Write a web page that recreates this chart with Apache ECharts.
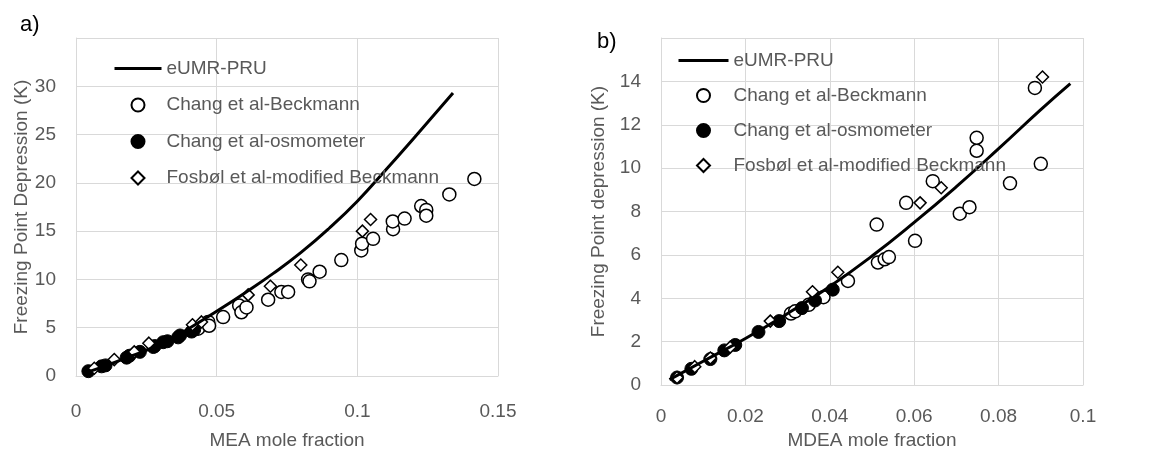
<!DOCTYPE html>
<html>
<head>
<meta charset="utf-8">
<script src="https://cdn.jsdelivr.net/npm/echarts@6.0.0/dist/echarts.min.js"></script>
<style>
  html, body { margin: 0; padding: 0; background: #ffffff; }
  #chart { width: 1151px; height: 455px; }
</style>
</head>
<body>
<div id="chart"></div>
<script type="text/javascript">
// a) MEA
var meaCurveX = [0.004, 0.01, 0.02, 0.03, 0.04, 0.05, 0.06, 0.07, 0.08, 0.09, 0.1, 0.11, 0.12, 0.134];
var meaCurveY = [0.4, 1.0, 2.1, 3.3, 4.9, 6.7, 8.6, 10.6, 12.8, 15.3, 18.1, 21.3, 24.6, 29.3];

var meaBeckX = [0.0434, 0.047, 0.0473, 0.0523, 0.058, 0.0588, 0.0606, 0.0683, 0.073, 0.0754, 0.0825, 0.083, 0.0866, 0.0943, 0.1014, 0.1017, 0.1056, 0.1127, 0.1126, 0.1168, 0.1227, 0.1245, 0.1245, 0.1327, 0.1416];
var meaBeckY = [4.9, 5.6, 5.2, 6.1, 7.3, 6.6, 7.1, 7.9, 8.7, 8.7, 10.0, 9.8, 10.8, 12.0, 13.0, 13.7, 14.2, 15.2, 16.0, 16.3, 17.6, 17.2, 16.6, 18.8, 20.4];

var meaOsmoX = [0.0044, 0.0091, 0.0105, 0.018, 0.019, 0.0227, 0.0275, 0.028, 0.031, 0.0325, 0.0363, 0.037, 0.0411, 0.042];
var meaOsmoY = [0.5, 1.0, 1.1, 1.9, 2.1, 2.5, 3.0, 3.1, 3.5, 3.6, 4.0, 4.2, 4.6, 4.8];

var meaFosX = [0.0065, 0.0136, 0.0207, 0.0259, 0.0414, 0.0446, 0.0612, 0.0691, 0.0799, 0.1018, 0.1047];
var meaFosY = [0.8, 1.7, 2.5, 3.4, 5.3, 5.6, 8.4, 9.3, 11.5, 15.0, 16.2];

// b) MDEA
var mdeaCurveX = [0.002, 0.01, 0.02, 0.03, 0.04, 0.05, 0.06, 0.07, 0.08, 0.09, 0.097];
var mdeaCurveY = [0.25, 1.1, 2.15, 3.3, 4.55, 5.95, 7.5, 9.15, 10.9, 12.7, 13.9];

var mdeaBeckX = [0.0308, 0.0318, 0.035, 0.0385, 0.0443, 0.0514, 0.053, 0.054, 0.0511, 0.0602, 0.0581, 0.0644, 0.0708, 0.0731, 0.0748, 0.0748, 0.0827, 0.0886, 0.09];
var mdeaBeckY = [3.3, 3.4, 3.7, 4.05, 4.8, 5.65, 5.8, 5.9, 7.4, 6.65, 8.4, 9.4, 7.9, 8.2, 10.8, 11.4, 9.3, 13.7, 10.2];

var mdeaOsmoX = [0.0038, 0.0072, 0.0117, 0.015, 0.0176, 0.0231, 0.028, 0.0334, 0.0365, 0.0407];
var mdeaOsmoY = [0.35, 0.75, 1.2, 1.6, 1.85, 2.45, 2.95, 3.55, 3.9, 4.4];

var mdeaFosX = [0.0038, 0.008, 0.0117, 0.0164, 0.0259, 0.0359, 0.0419, 0.0614, 0.0664, 0.0904];
var mdeaFosY = [0.35, 0.85, 1.25, 1.75, 2.95, 4.3, 5.2, 8.4, 9.1, 14.2];

var names = ['eUMR-PRU', 'Chang et al-Beckmann', 'Chang et al-osmometer', 'Fosbøl et al-modified Beckmann'];

var FONT = '"Liberation Sans", Arial, sans-serif';
var GREY = '#595959';
var GRID = '#d9d9d9';
var DIAMOND = 'path://M5,0 L10,5 L5,10 L0,5 Z';

function pairs(xs, ys) {
    var out = [];
    for (var i = 0; i < xs.length; i++) out.push([xs[i], ys[i]]);
    return out;
}

function xAxisOf(idx, name, max, step, gap, margin) {
    return {
        type: 'value', gridIndex: idx, min: 0, max: max, interval: step,
        name: name, nameLocation: 'middle', nameGap: gap,
        nameTextStyle: { fontSize: 19, color: GREY, fontFamily: FONT },
        axisLine: { show: true, lineStyle: { color: GRID, width: 1 } },
        axisTick: { show: false },
        axisLabel: { fontSize: 19, color: GREY, fontFamily: FONT, margin: margin },
        splitLine: { show: true, lineStyle: { color: GRID, width: 1 } }
    };
}

function yAxisOf(idx, name, max, step, gap) {
    return {
        type: 'value', gridIndex: idx, min: 0, max: max, interval: step,
        name: name, nameLocation: 'middle', nameGap: gap,
        nameTextStyle: { fontSize: 19, color: GREY, fontFamily: FONT },
        axisLine: { show: true, lineStyle: { color: GRID, width: 1 } },
        axisTick: { show: false },
        axisLabel: { fontSize: 19, color: GREY, fontFamily: FONT, margin: 20, showMaxLabel: false },
        splitLine: { show: true, lineStyle: { color: GRID, width: 1 } }
    };
}

function seriesFor(idx, cx, cy, bx, by, ox, oy, fx, fy) {
    return [
        { name: names[0], type: 'line', xAxisIndex: idx, yAxisIndex: idx, data: pairs(cx, cy),
          smooth: 0.5, symbol: 'none', lineStyle: { color: '#000', width: 3 }, itemStyle: { color: '#000' } },
        { name: names[1], type: 'scatter', xAxisIndex: idx, yAxisIndex: idx, data: pairs(bx, by),
          symbol: 'circle', symbolSize: 13, itemStyle: { color: '#fff', borderColor: '#000', borderWidth: 1.5, opacity: 1 } },
        { name: names[2], type: 'scatter', xAxisIndex: idx, yAxisIndex: idx, data: pairs(ox, oy),
          symbol: 'circle', symbolSize: 13, itemStyle: { color: '#000', borderColor: '#000', borderWidth: 1, opacity: 1 } },
        { name: names[3], type: 'scatter', xAxisIndex: idx, yAxisIndex: idx, data: pairs(fx, fy),
          symbol: DIAMOND, symbolKeepAspect: true, symbolSize: 12,
          itemStyle: { color: '#fff', borderColor: '#000', borderWidth: 1.5, opacity: 1 } }
    ];
}

var legendText = { fontSize: 19, color: GREY, fontFamily: FONT, lineHeight: 19 };
var legendData = [
    { name: names[0], itemStyle: { opacity: 0 }, lineStyle: { width: 3, color: '#000' } },
    { name: names[1] },
    { name: names[2] },
    { name: names[3], icon: DIAMOND }
];

var option = {
    animation: false,
    backgroundColor: '#ffffff',
    title: [
        { text: 'a)', left: 15, top: 9, textStyle: { fontSize: 22, fontWeight: 'normal', color: '#000', fontFamily: FONT } },
        { text: 'b)', left: 592, top: 26, textStyle: { fontSize: 22, fontWeight: 'normal', color: '#000', fontFamily: FONT } }
    ],
    grid: [
        { left: 76, right: 653, top: 38, bottom: 73 },
        { left: 661, right: 68, top: 38, bottom: 69 }
    ],
    legend: [
        { orient: 'vertical', left: 113, top: 59, padding: 0, itemWidth: 47, itemHeight: 13, itemGap: 17.5,
          symbolKeepAspect: true, textStyle: legendText, data: legendData },
        { orient: 'vertical', left: 677, top: 51, padding: 0, itemWidth: 50, itemHeight: 13, itemGap: 16,
          symbolKeepAspect: true, textStyle: legendText, data: legendData }
    ],
    xAxis: [
        xAxisOf(0, 'MEA mole fraction', 0.15, 0.05, 55, 26),
        xAxisOf(1, 'MDEA mole fraction', 0.1, 0.02, 42, 22)
    ],
    yAxis: [
        yAxisOf(0, 'Freezing Point Depression (K)', 35, 5, 42),
        yAxisOf(1, 'Freezing Point depression (K)', 16, 2, 53)
    ],
    series: [].concat(
        seriesFor(0, meaCurveX, meaCurveY, meaBeckX, meaBeckY, meaOsmoX, meaOsmoY, meaFosX, meaFosY),
        seriesFor(1, mdeaCurveX, mdeaCurveY, mdeaBeckX, mdeaBeckY, mdeaOsmoX, mdeaOsmoY, mdeaFosX, mdeaFosY)
    )
};

var myChart = echarts.init(document.getElementById('chart'));
myChart.setOption(option);
</script>
</body>
</html>
